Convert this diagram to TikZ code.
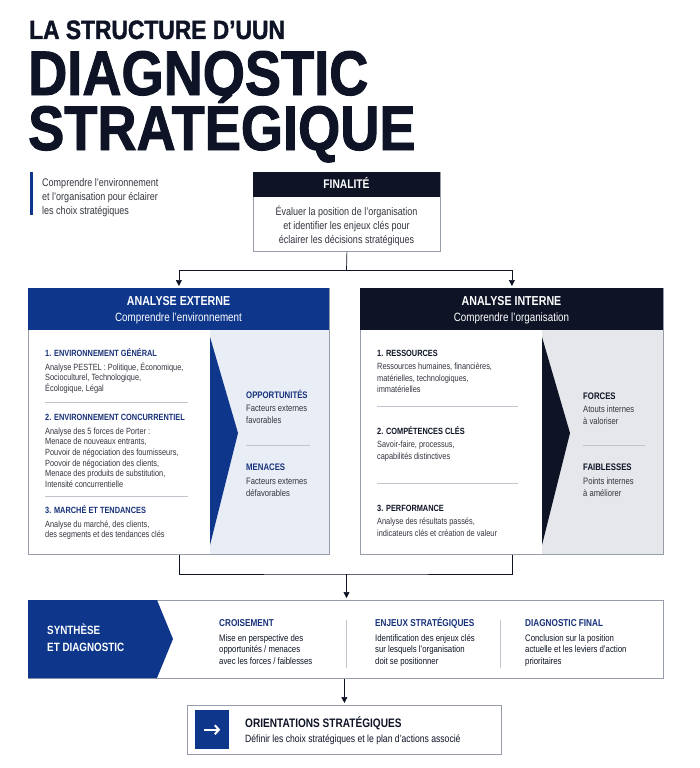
\documentclass[tikz,border=0pt]{standalone}
\usepackage{fontspec}
\setmainfont{Liberation Sans}[FakeStretch=0.82]
\newfontfamily\titre{Liberation Sans}[FakeStretch=0.86, FakeBold=1.5]
\usetikzlibrary{arrows.meta}

\definecolor{marine}{RGB}{14,20,38}
\definecolor{bleu}{RGB}{14,55,140}
\definecolor{bleutxt}{RGB}{24,50,122}
\definecolor{gristxt}{RGB}{50,53,62}
\definecolor{fondext}{RGB}{232,237,246}
\definecolor{fondint}{RGB}{229,231,235}
\definecolor{cadre}{RGB}{150,156,168}
\definecolor{trait}{RGB}{192,196,204}

\newcommand{\taille}[2]{\fontsize{#1}{#2}\selectfont}
% lignes alignees sur la premiere ligne de base
\newcommand{\lignes}[2][l]{\begin{tabular}[t]{@{}#1@{}}#2\end{tabular}}

\tikzset{
  cadrebox/.style={draw=cadre, line width=0.8pt, fill=white, inner sep=0pt, anchor=north west},
  tete/.style={font=\bfseries\taille{9}{11}, inner sep=0pt, anchor=base west},
  corps/.style={font=\taille{9}{11}, text=gristxt, inner sep=0pt, anchor=base west},
  entete/.style={font=\bfseries\taille{13}{15}, text=white, inner sep=0pt, anchor=base},
  soustitre/.style={font=\taille{12}{14}, text=white, inner sep=0pt, anchor=base},
  grandtitre/.style={font=\titre\bfseries\taille{63}{66}, text=marine, inner sep=0pt, anchor=base west},
  fleche/.style={draw=marine, line width=0.7pt, -{Triangle[length=6pt,width=6pt]}, shorten >=2pt},
  lien/.style={draw=marine, line width=0.7pt},
  filet/.style={draw=trait, line width=0.6pt},
}

\begin{document}
\begin{tikzpicture}[x=1pt, y=-1pt]
  \useasboundingbox[fill=white] (0,0) rectangle (700,768);

  % titre
  \node[grandtitre, font=\titre\bfseries\taille{26.5}{30}] (surtitre) at (29,39) {LA STRUCTURE D’UUN};
  \node[grandtitre] (titre1) at (28,95) {DIAGNOSTIC};
  \node[grandtitre, text height=46pt] (titre2) at (28,150) {STRATÉGIQUE};
  \fill[bleu] (30,172) rectangle (33,215);
  \node[corps, font=\taille{11}{14}] (accroche) at (42,186)
    {\lignes{Comprendre l’environnement\\et l’organisation pour éclairer\\les choix stratégiques}};

  % finalite
  \node[cadrebox, minimum width=187pt, minimum height=79pt] (fin) at (253,172) {};
  \fill[marine] (253,172) rectangle (440,197);
  \node[entete, font=\bfseries\taille{12.5}{14}] (fintitre) at (346.5,188.5) {FINALITÉ};
  \node[corps, font=\taille{11}{14}, anchor=base] (fintxt) at (346.5,215.5)
    {\lignes[c]{Évaluer la position de l’organisation\\et identifier les enjeux clés pour\\éclairer les décisions stratégiques}};

  % analyse externe
  \node[cadrebox, minimum width=301pt, minimum height=266pt] (ext) at (28,288) {};
  \fill[fondext] (210,330) rectangle (328.6,553.6);
  \fill[bleu] (28,288) rectangle (329,330);
  \fill[bleu] (210,337) -- (238,433) -- (210,545) -- cycle;
  \node[entete] (exttitre) at (178.5,305.5) {ANALYSE EXTERNE};
  \node[soustitre] (extsous) at (178.5,321.5) {Comprendre l’environnement};
  \foreach \k/\yh/\ti/\tx in {1/356.5/{1. ENVIRONNEMENT GÉNÉRAL}/{Analyse PESTEL : Politique, Économique,\\Socioculturel, Technologique,\\Écologique, Légal},
      2/420.5/{2. ENVIRONNEMENT CONCURRENTIEL}/{Analyse des 5 forces de Porter :\\Menace de nouveaux entrants,\\Pouvoir de négociation des fournisseurs,\\Poovoir de négociation des clients,\\Menace des produits de substitution,\\Intensité concurrentielle},
      3/513.5/{3. MARCHÉ ET TENDANCES}/{Analyse du marché, des clients,\\des segments et des tendances clés}}
    {\node[tete, text=bleutxt] (exth\k) at (45,\yh) {\ti};
     \node[corps, font=\taille{9}{10.7}] (extc\k) at (45,\yh+13.5) {\lignes{\tx}};}
  \draw[filet] (45,402) -- (188,402);
  \draw[filet] (45,496) -- (188,496);
  \node[tete, text=bleutxt, font=\bfseries\taille{9.5}{11}] (opp) at (246,398.5) {OPPORTUNITÉS};
  \node[corps, font=\taille{9.3}{11.5}] (oppc) at (246,411.5) {\lignes{Facteurs externes\\favorables}};
  \draw[filet] (246,445) -- (310,445);
  \node[tete, text=bleutxt, font=\bfseries\taille{9.5}{11}] (men) at (246,470.5) {MENACES};
  \node[corps, font=\taille{9.3}{11.5}] (menc) at (246,484.5) {\lignes{Facteurs externes\\défavorables}};

  % analyse interne
  \node[cadrebox, minimum width=303pt, minimum height=266pt] (int) at (360,288) {};
  \fill[fondint] (542,330) rectangle (662.6,553.6);
  \fill[marine] (360,288) rectangle (663,330);
  \fill[marine] (542,337) -- (570,433) -- (542,545) -- cycle;
  \node[entete] (inttitre) at (511.5,305.5) {ANALYSE INTERNE};
  \node[soustitre] (intsous) at (511.5,321.5) {Comprendre l’organisation};
  \foreach \k/\yh/\ti/\tx in {1/356.5/{1. RESSOURCES}/{Ressources humaines, financières,\\matérielles, technologiques,\\immatérielles},
      2/434.5/{2. COMPÉTENCES CLÉS}/{Savoir-faire, processus,\\capabilités distinctives},
      3/511.5/{3. PERFORMANCE}/{Analyse des résultats passés,\\indicateurs clés et création de valeur}}
    {\node[tete, text=marine] (inth\k) at (377,\yh) {\ti};
     \node[corps, font=\taille{9}{11.5}] (intc\k) at (377,\yh+13) {\lignes{\tx}};}
  \draw[filet] (377,406.5) -- (518,406.5);
  \draw[filet] (377,483) -- (518,483);
  \node[tete, text=marine, font=\bfseries\taille{9.5}{11}] (forces) at (583,399.5) {FORCES};
  \node[corps, font=\taille{9.3}{11.5}] (forcesc) at (583,412.5) {\lignes{Atouts internes\\à valoriser}};
  \draw[filet] (583,445) -- (645,445);
  \node[tete, text=marine, font=\bfseries\taille{9.5}{11}] (faib) at (583,470.5) {FAIBLESSES};
  \node[corps, font=\taille{9.3}{11.5}] (faibc) at (583,484.5) {\lignes{Points internes\\à améliorer}};

  % synthese
  \node[cadrebox, minimum width=635pt, minimum height=78pt] (syn) at (28,600) {};
  \fill[bleu] (28,600) -- (157,600) -- (173,639) -- (157,678) -- (28,678) -- cycle;
  \node[tete, font=\bfseries\taille{12}{17}, text=white] (syntitre) at (47,634.5) {\lignes{SYNTHÈSE\\ET DIAGNOSTIC}};
  \foreach \k/\xc/\ti/\tx in {1/219/{CROISEMENT}/{Mise en perspective des\\opportunités / menaces\\avec les forces / faiblesses},
      2/375/{ENJEUX STRATÉGIQUES}/{Identification des enjeux clés\\sur lesquels l’organisation\\doit se positionner},
      3/525/{DIAGNOSTIC FINAL}/{Conclusion sur la position\\actuelle et les leviers d’action\\prioritaires}}
    {\node[tete, text=bleutxt, font=\bfseries\taille{10}{12}] (synh\k) at (\xc,626.5) {\ti};
     \node[corps, font=\taille{9.5}{11.7}, text=marine] (sync\k) at (\xc,641) {\lignes{\tx}};}
  \draw[filet] (346,620) -- (346,668);
  \draw[filet] (500,620) -- (500,668);

  % orientations
  \node[cadrebox, minimum width=314pt, minimum height=49pt] (ori) at (187,705) {};
  \node[fill=bleu, minimum width=34pt, minimum height=39pt, inner sep=0pt, anchor=north west] (carre) at (195,710) {};
  \draw[white, line width=2pt, -{Straight Barb[length=4pt,width=9pt]}] ([xshift=-8pt]carre.center) -- ([xshift=8pt]carre.center);
  \node[tete, font=\bfseries\taille{12.3}{14}, text=marine] (orititre) at (245,727.5) {ORIENTATIONS STRATÉGIQUES};
  \node[corps, font=\taille{10.5}{13}, text=marine] (oritxt) at (245,742.5) {Définir les choix stratégiques et le plan d’actions associé};

  % liaisons
  \coordinate (j1) at (346.5,270);
  \coordinate (j2) at (346.5,574);
  \draw[lien] (fin.south) -- (j1);
  \draw[fleche] (j1) -| (ext.north);
  \draw[fleche] (j1) -| (int.north);
  \draw[lien] (ext.south) |- (j2) -| (int.south);
  \draw[fleche] (j2) -- (j2 |- syn.north);
  \draw[fleche] (syn.south -| ori.north) -- (ori.north);
\end{tikzpicture}
\end{document}
